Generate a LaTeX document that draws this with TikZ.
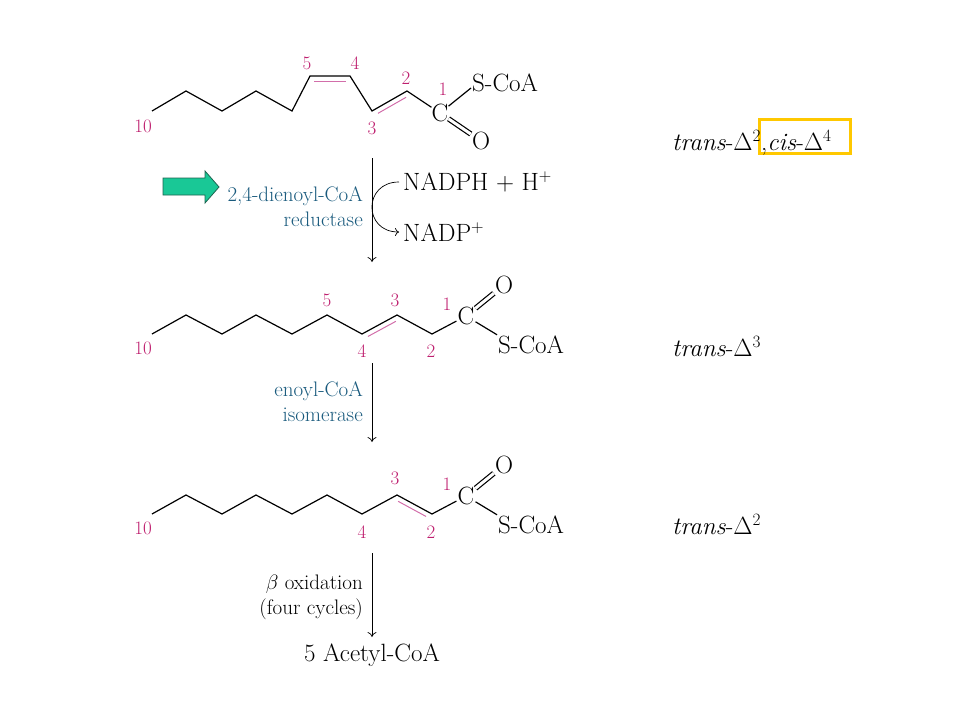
\documentclass[tikz,border=0pt]{standalone}
\usepackage{amsmath}
\usepackage{amssymb}
\usepackage[dvipsnames]{xcolor}
\usepackage{tikz}
\usetikzlibrary{arrows.meta,calc,positioning}
\definecolor{numcol}{RGB}{190,30,110}
\definecolor{dblcol}{RGB}{210,110,170}
\definecolor{enzcol}{RGB}{25,90,125}
\definecolor{arrowfill}{RGB}{25,200,150}
\definecolor{arrowline}{RGB}{30,100,80}
\definecolor{boxcol}{RGB}{255,200,0}
\newcommand{\dblbond}[2]{\draw[dbl] ($(#1)!5pt!-90:(#2)$) -- ($(#2)!5pt!90:(#1)$);}

\begin{document}
\begin{tikzpicture}[x=1pt,y=-1pt,
        bond/.style={line width=1.2pt},
        dbl/.style={draw=dblcol,line width=1pt,shorten <=4pt,shorten >=4pt},
        chem/.style={font=\fontsize{25}{30}\selectfont,inner sep=1pt},
        enz/.style={text=enzcol,font=\fontsize{21}{25}\selectfont,align=right,anchor=east,inner sep=0pt},
        rxn/.style={-{To[length=5pt,width=9pt]},line width=0.7pt},
        tag/.style={font=\fontsize{25}{30}\selectfont,anchor=west,inner sep=0pt}]
    \useasboundingbox (0,0) rectangle (960,720);

    % trans-2, cis-4
    \coordinate (a10) at (152,111);
    \coordinate (a9) at (186,91);
    \coordinate (a8) at (222,111);
    \coordinate (a7) at (256,91);
    \coordinate (a6) at (292,111);
    \coordinate (a5) at (310,76);
    \coordinate (a4) at (350,76);
    \coordinate (a3) at (372,111);
    \coordinate (a2) at (407,91);
    \node[chem,inner sep=0pt] (c1a) at (440,113) {C};
    \node[chem,anchor=west] (sa) at (471,83) {S-CoA};
    \node[chem] (oa) at (481,141) {O};
    \draw[bond] (a10) -- (a9) -- (a8) -- (a7) -- (a6) -- (a5) -- (a4) -- (a3) -- (a2) -- (c1a);
    \draw[bond] (c1a) -- ([yshift=-5pt]sa.west);
    \draw[bond,double,double distance=3pt] (c1a) -- (oa);
    \dblbond{a5}{a4}
    \dblbond{a3}{a2}

    % trans-3
    \coordinate (b10) at (152,334);
    \coordinate (b9) at (186,315);
    \coordinate (b8) at (222,334);
    \coordinate (b7) at (256,315);
    \coordinate (b6) at (292,334);
    \coordinate (b5) at (327,315);
    \coordinate (b4) at (362,334);
    \coordinate (b3) at (397,315);
    \coordinate (b2) at (432,334);
    \node[chem] (c1b) at (466,316) {C};
    \node[chem] (ob) at (504,285) {O};
    \node[chem,anchor=west] (sb) at (497,345) {S-CoA};
    \draw[bond] (b10) -- (b9) -- (b8) -- (b7) -- (b6) -- (b5) -- (b4) -- (b3) -- (b2) -- (c1b);
    \draw[bond] (c1b) -- (sb.north west);
    \draw[bond,double,double distance=3pt] (c1b) -- (ob);
    \dblbond{b4}{b3}

    % trans-2
    \coordinate (d10) at (152,514);
    \coordinate (d9) at (186,495);
    \coordinate (d8) at (222,514);
    \coordinate (d7) at (256,495);
    \coordinate (d6) at (292,514);
    \coordinate (d5) at (327,495);
    \coordinate (d4) at (362,514);
    \coordinate (d3) at (397,495);
    \coordinate (d2) at (432,514);
    \node[chem] (c1d) at (466,496) {C};
    \node[chem] (od) at (504,465) {O};
    \node[chem,anchor=west] (sd) at (497,525) {S-CoA};
    \draw[bond] (d10) -- (d9) -- (d8) -- (d7) -- (d6) -- (d5) -- (d4) -- (d3) -- (d2) -- (c1d);
    \draw[bond] (c1d) -- (sd.north west);
    \draw[bond,double,double distance=3pt] (c1d) -- (od);
    \dblbond{d3}{d2}

    \begin{scope}[every node/.style={text=numcol,font=\fontsize{19}{23}\selectfont,inner sep=0pt}]
        \node (na10) at (143,126) {10};
        \node (na5) at (307,63) {5};
        \node (na4) at (355,63) {4};
        \node (na3) at (372,128) {3};
        \node (na2) at (406,78) {2};
        \node (na1) at (443,89) {1};

        \node (nb10) at (143,348) {10};
        \node (nb5) at (327,300) {5};
        \node (nb3) at (395,300) {3};
        \node (nb1) at (447,304) {1};
        \node (nb4) at (362,351) {4};
        \node (nb2) at (431,351) {2};

        \node (nd10) at (143,528) {10};
        \node (nd3) at (395,478) {3};
        \node (nd1) at (447,484) {1};
        \node (nd4) at (362,532) {4};
        \node (nd2) at (431,532) {2};
    \end{scope}

    \draw[boxcol,line width=3pt] (759,119) rectangle (850,153);
    \node[tag] (tga) at (672,143) {\textit{trans}-$\Delta^2$,\textit{cis}-$\Delta^4$};
    \node[tag] (tgb) at (672,347) {\textit{trans}-$\Delta^3$};
    \node[tag] (tgd) at (672,525) {\textit{trans}-$\Delta^2$};

    % reactions
    \coordinate (r1s) at (372,158);
    \coordinate (r1e) at (372,262);
    \coordinate (r2s) at (372,363);
    \coordinate (r2e) at (372,442);
    \coordinate (r3s) at (372,553);
    \coordinate (r3e) at (372,637);
    \draw[rxn] (r1s) -- (r1e);
    \draw[rxn] (r2s) -- (r2e);
    \draw[rxn] (r3s) -- (r3e);

    \node[enz] (enz1) at (363,207) {2,4-dienoyl-CoA\\reductase};
    \node[enz] (enz2) at (363,402) {enoyl-CoA\\isomerase};
    \node[enz,text=black] (boxid) at (363,597) {$\beta$ oxidation\\(four cycles)};
    \node[chem,inner sep=4pt,anchor=west] (nadph) at (399,182) {NADPH + H$^+$};
    \node[chem,inner sep=4pt,anchor=west] (nadp) at (399,232) {NADP$^+$};
    \draw[-{To[length=4pt,width=8pt]},line width=0.7pt] (nadph.west) .. controls +(-36,0) and +(-36,0) .. (nadp.west);
    \node[chem] (acoa) at (372,655) {5 Acetyl-CoA};

    \draw[fill=arrowfill,draw=arrowline,line width=0.8pt] (163,178) -- (205,178) -- (205,171) -- (219,187) -- (205,203) -- (205,195) -- (163,195) -- cycle;
\end{tikzpicture}
\end{document}
